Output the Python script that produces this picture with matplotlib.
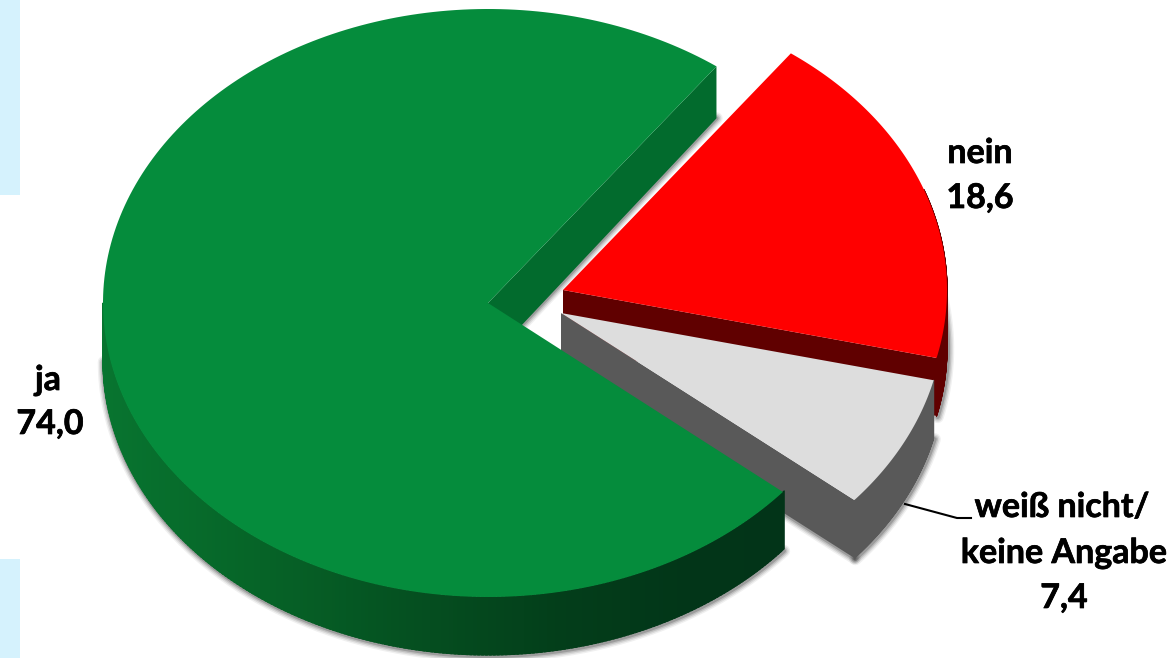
import numpy as np
import matplotlib
matplotlib.use("Agg")
import matplotlib.pyplot as plt
import matplotlib.patheffects as pe
from matplotlib.collections import PolyCollection
from matplotlib.colors import to_rgb
from matplotlib.patches import Polygon, Rectangle

plt.rcParams["font.family"] = ["Lato", "DejaVu Sans"]

categories = ["ja", "nein", "weiß nicht/\nkeine Angabe"]
shares = [74.0, 18.6, 7.4]
share_labels = ["74,0", "18,6", "7,4"]

# Start of the "nein" slice on the ellipse; slices run clockwise from here.
START_DEG = 53.6
DEPTH = 58

# Slice geometry in canvas pixels: apex x, apex y, radius x, radius y.
APEX = {"ja": (488, 303, 385, 294), "nein": (563, 290, 384, 294),
        "weiss": (561, 313, 383, 291)}
TOP = {"ja": "#058C3C", "nein": "#FF0000", "weiss": "#DDDDDD"}
WALL = {"ja": "#026B2D", "nein": "#600000", "weiss": "#595959"}

# Rim shading of the green slice, light on the left, dark to the right.
RIM_X = [100, 250, 420, 560, 700, 790]
RIM_G = ["#087530", "#066528", "#054F20", "#033E1A", "#023518", "#023418"]
rim_rgb = np.array([to_rgb(c) for c in RIM_G])


def rim_colour(x):
    return [np.interp(x, RIM_X, rim_rgb[:, i]) for i in range(3)]


def arc(key, a0, a1, n=240):
    cx, cy, rx, ry = APEX[key]
    t = np.radians(np.linspace(a0, a1, n))
    return np.column_stack([cx + rx * np.cos(t), cy - ry * np.sin(t)])


def draw_rim(ax, pts, colour, zorder):
    # Facets overlap their neighbours by half a step so no seams show; they
    # carry no edge stroke, which keeps the rim inside the slice outline.
    quads, cols = [], []
    for p, q in zip(pts[:-1], pts[1:]):
        q2 = q + (q - p) * 0.5
        quads.append([p, q2, q2 + (0, DEPTH), p + (0, DEPTH)])
        cols.append(colour if colour else rim_colour((p[0] + q[0]) / 2))
    ax.add_collection(PolyCollection(quads, facecolors=cols, edgecolors=cols,
                                     linewidths=0.8, zorder=zorder))


def draw_shadow(ax, pts):
    for lw, alpha in zip((9, 7, 5, 3), (0.06, 0.09, 0.12, 0.18)):
        ax.plot(pts[:, 0], pts[:, 1], color="black", lw=lw, alpha=alpha,
                solid_capstyle="round", zorder=2)


fig = plt.figure(figsize=(11.76, 6.58), dpi=100, facecolor="white")
ax = fig.add_axes([0, 0, 1, 1])
ax.set_xlim(0, 1176)
ax.set_ylim(658, 0)
ax.axis("off")

for y0, h in ((0, 195), (559, 99)):
    ax.add_patch(Rectangle((0, y0), 20, h, fc="#D5F2FD", ec="none", zorder=1))

# Slice sweeps derive from the shares.
sweep = [s / sum(shares) * 360 for s in shares]
nein_a0, nein_a1 = START_DEG, START_DEG - sweep[1]
weiss_a0, weiss_a1 = nein_a1, nein_a1 - sweep[2]
ja_a0, ja_a1 = START_DEG, START_DEG + sweep[0]

# Red slice: rim, cut face, top.
apex = np.array(APEX["nein"][:2], dtype=float)
top = arc("nein", nein_a0, nein_a1)
rim = arc("nein", 20, nein_a1)
draw_shadow(ax, rim + (1, DEPTH + 1))
draw_rim(ax, rim, WALL["nein"], 3)
end = top[-1]
ax.add_patch(Polygon([apex, end, end + (0, DEPTH), apex + (0, DEPTH)],
                     fc=WALL["nein"], ec="none", zorder=4))
ax.add_patch(Polygon(np.vstack([apex, top]), fc=TOP["nein"], ec="none", zorder=5))

# Grey slice: rim and cut face share one colour.
apex = np.array(APEX["weiss"][:2], dtype=float)
top = arc("weiss", weiss_a0, weiss_a1)
draw_shadow(ax, top + (1, DEPTH + 1))
end = top[-1]
draw_shadow(ax, np.array([apex + (0, DEPTH), end + (0, DEPTH)]))
ax.add_patch(Polygon([apex, end, end + (0, DEPTH), apex + (0, DEPTH)],
                     fc=WALL["weiss"], ec="none", zorder=6))
draw_rim(ax, top, WALL["weiss"], 6)
ax.add_patch(Polygon(np.vstack([apex, top]), fc=TOP["weiss"], ec="none", zorder=7))

# Green slice: inner wall at the back, rim across the front, then the top.
apex = np.array(APEX["ja"][:2], dtype=float)
top = arc("ja", ja_a0, ja_a1)
front = arc("ja", 180, ja_a1)
draw_shadow(ax, front + (1, DEPTH + 1))
start = top[0]
wall_low = np.array([apex + (0, DEPTH), start + (0, DEPTH - 6)])
draw_shadow(ax, wall_low)
ax.add_patch(Polygon([apex, start, wall_low[1], wall_low[0]],
                     fc=WALL["ja"], ec="none", zorder=8))
draw_rim(ax, front, None, 8)
ax.add_patch(Polygon(np.vstack([apex, top]), fc=TOP["ja"], ec="none", zorder=9))

# Leader line for the smallest slice.
ax.plot([905, 957, 971], [504, 518, 518], color="black", lw=1.5, zorder=10)

text = dict(ha="center", va="center", fontsize=24.5, fontweight="bold",
            color="black", zorder=11,
            path_effects=[pe.withStroke(linewidth=0.5, foreground="black")])
ax.text(48, 380, categories[0], **text)
ax.text(50, 424, share_labels[0], **text)
ax.text(980, 153, categories[1], **text)
ax.text(980, 198, share_labels[1], **text)
first, second = categories[2].split("\n")
ax.text(1062, 507, first, **text)
ax.text(1064, 553, second, **text)
ax.text(1064, 598, share_labels[2], **text)

fig.savefig("out.png", dpi=100, facecolor="white")
